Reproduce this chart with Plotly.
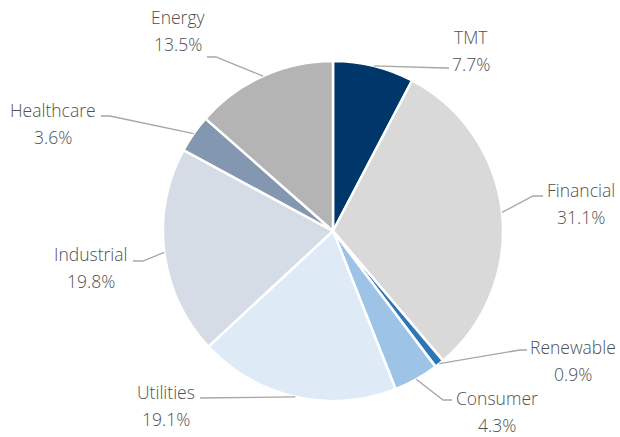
import math
import plotly.graph_objects as go

# ---- data ----
sectors = ["TMT", "Financial", "Renewable", "Consumer", "Utilities",
           "Industrial", "Healthcare", "Energy"]
shares = [7.7, 31.1, 0.9, 4.3, 19.1, 19.8, 3.6, 13.5]
pct_labels = ["7.7%", "31.1%", "0.9%", "4.3%", "19.1%", "19.8%", "3.6%", "13.5%"]

# ---- style ----
colors = ["#00376b", "#d9d9d9", "#2e75b6", "#9dc3e6", "#deebf7",
          "#d6dce5", "#8497b0", "#b4b4b4"]
W, H = 620, 437
CX, CY, R = 333, 231, 170          # pie centre / radius in pixels
TEXT_COLOR = "#505050"
LINE_COLOR = "#a6a6a6"
FONT = "Open Sans"
FS = 17.5
LINE_GAP = 27

# label layout (pixel): block centre x, name centre y, elbow point, line end point
label_layout = {
    "TMT":        dict(x=471, y=37,  elbow=(445, 68),  end=(449, 68)),
    "Financial":  dict(x=581, y=190, elbow=(533, 196), end=(543, 196)),
    "Renewable":  dict(x=573, y=347, elbow=(520, 350), end=(527, 350)),
    "Consumer":   dict(x=497, y=398, elbow=(443, 400), end=(452, 400)),
    "Utilities":  dict(x=166, y=392, elbow=(200, 398), end=(200, 398)),
    "Industrial": dict(x=91,  y=254, elbow=(143, 261), end=(133, 261)),
    "Healthcare": dict(x=53,  y=110, elbow=(110, 116), end=(101, 116)),
    "Energy":     dict(x=178, y=17,  elbow=(216, 57),  end=(207, 57)),
}


def px(x):
    return x / W


def py(y):
    return 1 - y / H


fig = go.Figure(go.Pie(
    labels=sectors, values=shares, sort=False, direction="clockwise",
    rotation=0, textinfo="none", hoverinfo="label+percent",
    marker=dict(colors=colors, line=dict(color="white", width=2.5)),
    domain=dict(x=[px(CX - R), px(CX + R)], y=[py(CY + R), py(CY - R)]),
    showlegend=False,
))

total = sum(shares)
cum = 0.0
shapes, annotations = [], []
for name, val, pct in zip(sectors, shares, pct_labels):
    mid = (cum + val / 2) / total
    cum += val
    theta = 2 * math.pi * mid
    sx = CX + R * math.sin(theta)
    sy = CY - R * math.cos(theta)
    lay = label_layout[name]
    ex, ey = lay["elbow"]
    tx, ty = lay["end"]
    path = f"M {px(sx)},{py(sy)} L {px(ex)},{py(ey)} L {px(tx)},{py(ty)}"
    shapes.append(dict(type="path", path=path, xref="paper", yref="paper",
                       line=dict(color=LINE_COLOR, width=1.3)))
    for text, yy in ((name, lay["y"]), (pct, lay["y"] + LINE_GAP)):
        annotations.append(dict(
            text=text, x=px(lay["x"]), y=py(yy), xref="paper", yref="paper",
            xanchor="center", yanchor="middle", showarrow=False,
            font=dict(family=FONT, size=FS, color=TEXT_COLOR, weight=300)))

fig.update_layout(
    width=W, height=H, margin=dict(l=0, r=0, t=0, b=0),
    paper_bgcolor="white", plot_bgcolor="white",
    shapes=shapes, annotations=annotations,
)

fig.write_html("out.html", config={"displayModeBar": False},
               post_script="document.body.style.margin='0';"
                           "document.body.style.overflow='hidden';")
